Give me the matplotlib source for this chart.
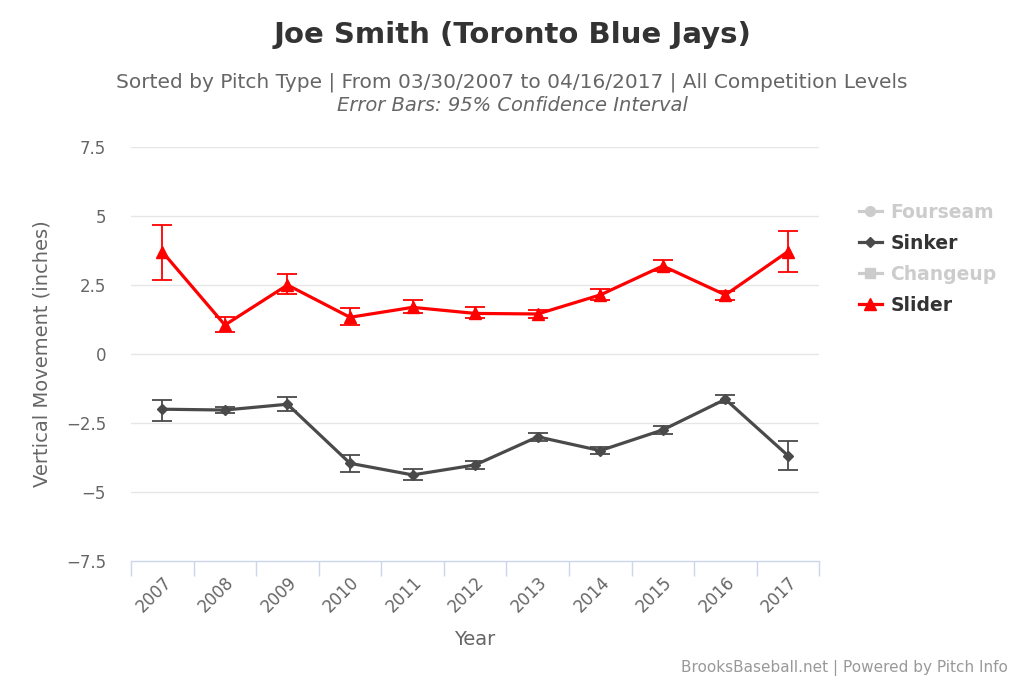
import matplotlib
matplotlib.use("Agg")
import matplotlib.pyplot as plt
from matplotlib.lines import Line2D
import numpy as np

years = ["2007", "2008", "2009", "2010", "2011", "2012", "2013", "2014", "2015", "2016", "2017"]

slider = [3.70, 1.05, 2.50, 1.33, 1.69, 1.47, 1.45, 2.14, 3.19, 2.14, 3.71]
slider_hi = [4.69, 1.33, 2.90, 1.66, 1.97, 1.71, 1.59, 2.34, 3.39, 2.28, 4.46]
slider_lo = [2.67, 0.81, 2.16, 1.05, 1.49, 1.29, 1.29, 1.97, 3.02, 1.97, 2.97]

sinker = [-2.00, -2.03, -1.82, -3.96, -4.38, -4.02, -3.00, -3.50, -2.75, -1.64, -3.68]
sinker_hi = [-1.68, -1.93, -1.57, -3.67, -4.17, -3.86, -2.86, -3.37, -2.61, -1.49, -3.15]
sinker_lo = [-2.42, -2.15, -2.05, -4.26, -4.57, -4.15, -3.14, -3.63, -2.90, -1.79, -4.20]

yticks = [-7.5, -5, -2.5, 0, 2.5, 5, 7.5]
ytick_labels = ["\u22127.5", "\u22125", "\u22122.5", "0", "2.5", "5", "7.5"]

RED = "#ff0000"
DARK = "#4a4a4a"
TXT = "#333333"
SUB = "#666666"
AXIS = "#ccd6eb"

plt.rcParams["font.family"] = ["DejaVu Sans"]

fig = plt.figure(figsize=(10.24, 6.83), dpi=100)
ax = fig.add_axes([0.128, 0.1786, 0.672, 0.6062])

x = np.arange(len(years))


def draw(vals, lo, hi, color, marker, ms, z):
    vals = np.array(vals)
    err = [vals - np.array(lo), np.array(hi) - vals]
    ax.errorbar(x, vals, yerr=err, fmt="none", ecolor=color, elinewidth=1.3,
                capsize=7, capthick=1.3, zorder=z)
    ax.plot(x, vals, color=color, lw=2.3, marker=marker, ms=ms, zorder=z + 1)


draw(sinker, sinker_lo, sinker_hi, DARK, "D", 5, 3)
draw(slider, slider_lo, slider_hi, RED, "^", 8, 5)

ax.set_xlim(-0.5, len(years) - 0.5)
ax.set_ylim(-7.5, 7.5)
ax.set_yticks(yticks)
ax.set_yticklabels(ytick_labels)
ax.tick_params(axis="y", length=0, colors=SUB, labelsize=12, pad=18)
for y in yticks[1:]:
    ax.axhline(y, color="#e6e6e6", lw=1, zorder=1)

# category boundaries as ticks, labels at centres
ax.set_xticks(np.arange(-0.5, len(years), 1.0))
ax.set_xticklabels([])
ax.set_xticks(x, minor=True)
ax.set_xticklabels(years, minor=True, rotation=45, ha="right",
                   rotation_mode="anchor")
ax.tick_params(axis="x", which="major", length=11, color=AXIS, width=1)
ax.tick_params(axis="x", which="minor", length=0, colors=SUB, labelsize=12, pad=9)

for s in ["top", "right", "left"]:
    ax.spines[s].set_visible(False)
ax.spines["bottom"].set_color(AXIS)
ax.spines["bottom"].set_linewidth(1)

ax.set_xlabel("Year", color=SUB, fontsize=14, labelpad=10)
ax.set_ylabel("Vertical Movement (inches)", color=SUB, fontsize=14, labelpad=10)

fig.text(0.5, 0.949, "Joe Smith (Toronto Blue Jays)", ha="center", va="center",
         fontsize=21, color=TXT, weight="bold")
fig.text(0.5, 0.88, "Sorted by Pitch Type | From 03/30/2007 to 04/16/2017 | All Competition Levels",
         ha="center", va="center", fontsize=14.5, color=SUB)
fig.text(0.5, 0.845, "Error Bars: 95% Confidence Interval", ha="center", va="center",
         fontsize=14, color=SUB, style="italic")
fig.text(0.984, 0.022, "BrooksBaseball.net | Powered by Pitch Info", ha="right",
         va="center", fontsize=11, color="#999999")

handles = [
    Line2D([], [], color="#cccccc", lw=2.3, marker="o", ms=7),
    Line2D([], [], color=DARK, lw=2.3, marker="D", ms=5),
    Line2D([], [], color="#cccccc", lw=2.3, marker="s", ms=7),
    Line2D([], [], color=RED, lw=2.3, marker="^", ms=8),
]
names = ["Fourseam", "Sinker", "Changeup", "Slider"]
leg = fig.legend(handles, names, loc="upper left", bbox_to_anchor=(0.822, 0.728),
                 frameon=False, handlelength=1.25, handletextpad=0.45,
                 labelspacing=0.64, prop={"weight": "bold", "size": 13.5})
for t, c in zip(leg.get_texts(), ["#cccccc", TXT, "#cccccc", TXT]):
    t.set_color(c)

fig.savefig("out.png", dpi=100)
